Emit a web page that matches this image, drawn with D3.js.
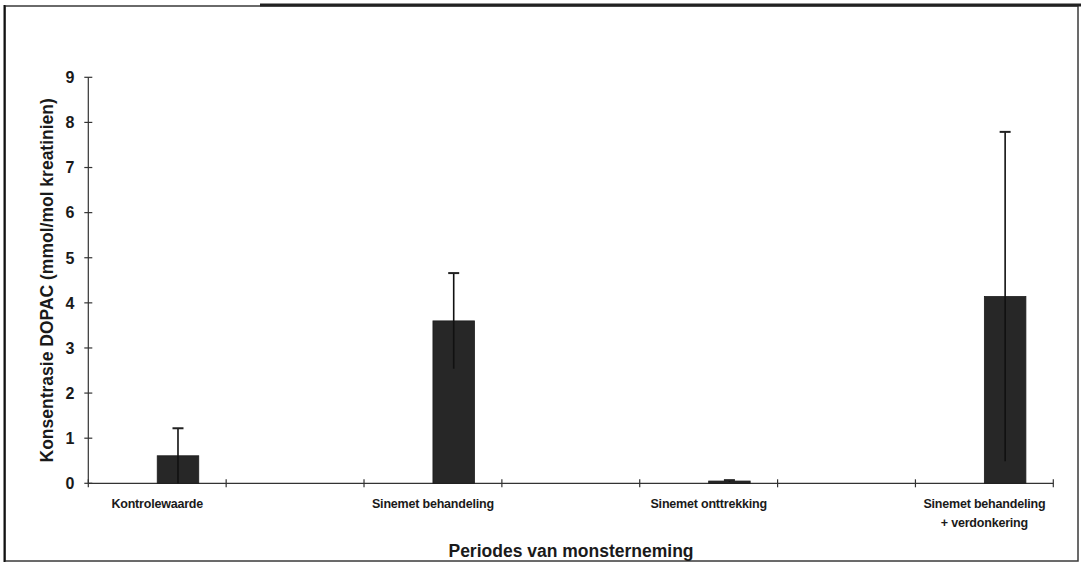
<!DOCTYPE html>
<html>
<head>
<meta charset="utf-8">
<script src="https://cdn.jsdelivr.net/npm/d3@7"></script>
<style>
  html, body { margin: 0; padding: 0; background: #fff; }
  svg { display: block; }
  text { font-family: Arial, "Liberation Sans", sans-serif; fill: #1a1a1a; }
</style>
</head>
<body>
<svg id="chart" width="1081" height="567"></svg>
<script>
// Sampling periods (every other slot on the axis is an empty spacer category)
const categories = [
  ["Kontrolewaarde"],
  [""],
  ["Sinemet behandeling"],
  [""],
  ["Sinemet onttrekking"],
  [""],
  ["Sinemet behandeling", "+ verdonkering"]
];
// Two series per slot; the first one is empty, DOPAC sits right of centre
const seriesNames = ["leeg", "DOPAC"];
const dopacMean = [0.61, null, 3.60, null, 0.05, null, 4.14];
const dopacError = [0.61, null, 1.06, null, 0.02, null, 3.65];
const yTicks = [0, 1, 2, 3, 4, 5, 6, 7, 8, 9];

const yTitle = "Konsentrasie DOPAC (mmol/mol kreatinien)";
const xTitle = "Periodes van monsterneming";

const svg = d3.select("#chart");
const m = { left: 88.3, right: 1053.3, top: 77.3, bottom: 483.3 };

// Frame around the chart
svg.append("rect")
  .attr("x", 5).attr("y", 6).attr("width", 1073).attr("height", 555)
  .attr("fill", "none").attr("stroke", "#3a3a3a").attr("stroke-width", 1.5);
svg.append("line")
  .attr("x1", 260).attr("x2", 1081).attr("y1", 5).attr("y2", 5)
  .attr("stroke", "#222").attr("stroke-width", 3);
svg.append("line")
  .attr("x1", 4.5).attr("x2", 4.5).attr("y1", 5).attr("y2", 562)
  .attr("stroke", "#111").attr("stroke-width", 2);

const x0 = d3.scaleBand()
  .domain(d3.range(categories.length))
  .range([m.left, m.right])
  .padding(0);

const x1 = d3.scaleBand()
  .domain(seriesNames)
  .range([0, x0.bandwidth()])
  .paddingInner(0)
  .paddingOuter(0.66);

const y = d3.scaleLinear().domain([0, 9]).range([m.bottom, m.top]);

// Y axis with ticks crossing the line
const yAxis = svg.append("g");
yAxis.append("line")
  .attr("x1", m.left).attr("x2", m.left)
  .attr("y1", y(9)).attr("y2", y(0))
  .attr("stroke", "#333").attr("stroke-width", 1.2);
yAxis.selectAll(".yt").data(yTicks).join("line")
  .attr("x1", m.left - 4).attr("x2", m.left + 4)
  .attr("y1", d => y(d)).attr("y2", d => y(d))
  .attr("stroke", "#333").attr("stroke-width", 1.2);
yAxis.selectAll(".yl").data(yTicks).join("text")
  .attr("x", m.left - 14).attr("y", d => y(d))
  .attr("dy", "0.36em")
  .attr("text-anchor", "end")
  .attr("font-size", 16).attr("font-weight", "bold")
  .text(d => d);

// X axis with ticks at slot boundaries
const xAxis = svg.append("g");
xAxis.append("line")
  .attr("x1", m.left).attr("x2", m.right)
  .attr("y1", y(0)).attr("y2", y(0))
  .attr("stroke", "#333").attr("stroke-width", 1.2);
const boundaries = d3.range(categories.length + 1).map(i =>
  i < categories.length ? x0(i) : x0(categories.length - 1) + x0.bandwidth());
xAxis.selectAll(".xt").data(boundaries).join("line")
  .attr("x1", d => d).attr("x2", d => d)
  .attr("y1", y(0) - 4).attr("y2", y(0) + 4)
  .attr("stroke", "#333").attr("stroke-width", 1.2);

const labels = xAxis.selectAll(".xl").data(categories).join("text")
  .attr("x", (d, i) => x0(i) + x0.bandwidth() / 2)
  .attr("y", y(0) + 25)
  .attr("text-anchor", "middle")
  .attr("font-size", 12.5).attr("font-weight", "bold")
  .attr("letter-spacing", "-0.2");
labels.selectAll("tspan").data(d => d).join("tspan")
  .attr("x", function () { return d3.select(this.parentNode).attr("x"); })
  .attr("dy", (d, j) => j === 0 ? 0 : 19)
  .text(d => d);

// Bars
const barG = svg.append("g");
const rows = dopacMean.map((v, i) => ({ i, v, e: dopacError[i] })).filter(d => d.v != null);

barG.selectAll("rect").data(rows).join("rect")
  .attr("x", d => x0(d.i) + x1("DOPAC"))
  .attr("y", d => y(d.v))
  .attr("width", x1.bandwidth())
  .attr("height", d => y(0) - y(d.v))
  .attr("fill", "#272727")
  .attr("stroke", "#1c1c1c").attr("stroke-width", 0.8);

// Error bars (symmetric), caps on the upper end
const cx = d => x0(d.i) + x1("DOPAC") + x1.bandwidth() / 2;
barG.selectAll(".err").data(rows).join("line")
  .attr("x1", cx).attr("x2", cx)
  .attr("y1", d => y(d.v + d.e)).attr("y2", d => y(Math.max(0, d.v - d.e)))
  .attr("stroke", "#111").attr("stroke-width", 1.6);
barG.selectAll(".cap").data(rows).join("line")
  .attr("x1", d => cx(d) - 5.5).attr("x2", d => cx(d) + 5.5)
  .attr("y1", d => y(d.v + d.e)).attr("y2", d => y(d.v + d.e))
  .attr("stroke", "#222").attr("stroke-width", 2);

// Axis titles
svg.append("text")
  .attr("transform", `translate(53,${(y(0) + y(9)) / 2}) rotate(-90)`)
  .attr("text-anchor", "middle")
  .attr("font-size", 17.5).attr("font-weight", "bold")
  .text(yTitle);

svg.append("text")
  .attr("x", 571).attr("y", 557)
  .attr("text-anchor", "middle")
  .attr("font-size", 17.5).attr("font-weight", "bold")
  .text(xTitle);
</script>
</body>
</html>
